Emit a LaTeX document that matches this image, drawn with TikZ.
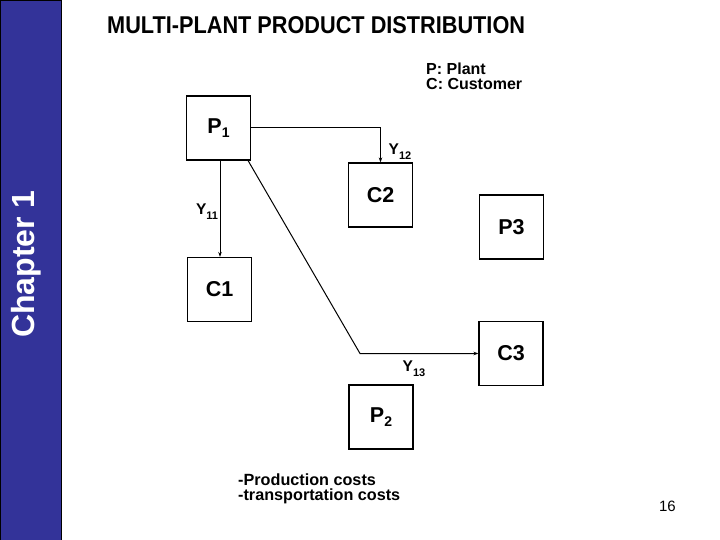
\documentclass[tikz,border=0pt]{standalone}
\usepackage{fontspec}
\setmainfont{Liberation Sans}
\usetikzlibrary{arrows.meta}
\definecolor{sidebar}{RGB}{51,51,153}
\newcommand{\fsz}[2]{\fontsize{#1}{#2}\selectfont}
\begin{document}
\begin{tikzpicture}[x=1pt,y=-1pt,
  box/.style={draw,line width=1.1pt,minimum width=64pt,minimum height=64pt,inner sep=0pt,font=\fsz{21.5}{23}\bfseries},
  conn/.style={line width=1pt},
  tip/.style={-{Stealth[length=5pt,width=3.5pt]}},
  ylab/.style={font=\fsz{15.5}{17}\bfseries,inner sep=0pt},
  txt/.style={font=\fsz{16.2}{15}\bfseries,align=left,inner sep=0pt}]
\useasboundingbox (0,0) rectangle (720,540);
\fill[white] (0,0) rectangle (720,540);
\draw[fill=sidebar,line width=0.8pt] (0,0) rectangle (61,540);
\node[rotate=90,text=white,font=\fsz{32}{34}\bfseries] (chap) at (26,264) {Chapter 1};
% title
\node[anchor=base west,font=\fsz{21.7}{24}\bfseries,inner sep=0pt] (title) at (107,34) {\scalebox{1}[1.12]{MULTI-PLANT PRODUCT DISTRIBUTION}};
% legend
\node[txt,anchor=north west,font=\fsz{16}{15}\bfseries] (legend) at (426,63) {P: Plant\\C: Customer};
% boxes
\node[box] (P1) at (218.5,128) {P\raisebox{-0.35ex}{\fsz{14}{15}1}};
\node[box] (C2) at (380.5,195) {C2};
\node[box] (P3) at (511.5,227) {P3};
\node[box] (C1) at (219.5,289.5) {C1};
\node[box] (C3) at (511,353.5) {C3};
\node[box] (P2) at (381,417) {P\raisebox{-0.35ex}{\fsz{14}{15}2}};
% connectors
\draw[conn,tip] (P1.east) -| (C2.north);
\draw[conn,tip] ([xshift=1.5pt]P1.south) -- ([xshift=1.5pt]P1.south |- C1.north);
\coordinate (bend) at (360,353.5);
\draw[conn,tip] ([xshift=-3pt]P1.south east) -- (bend) -- (C3.west);
% labels
\node[ylab] (y12) at (400,152) {Y\raisebox{-5pt}{\fsz{11}{12}12}};
\node[ylab] (y11) at (207,212) {Y\raisebox{-5pt}{\fsz{11}{12}11}};
\node[ylab] (y13) at (414,369) {Y\raisebox{-5pt}{\fsz{11}{12}13}};
% costs
\node[txt,anchor=north west] (costs) at (238,474) {-Production costs\\-transportation costs};
\node[font=\fsz{15}{17},anchor=base east,inner sep=0pt] (page) at (676,511) {16};
\end{tikzpicture}
\end{document}
